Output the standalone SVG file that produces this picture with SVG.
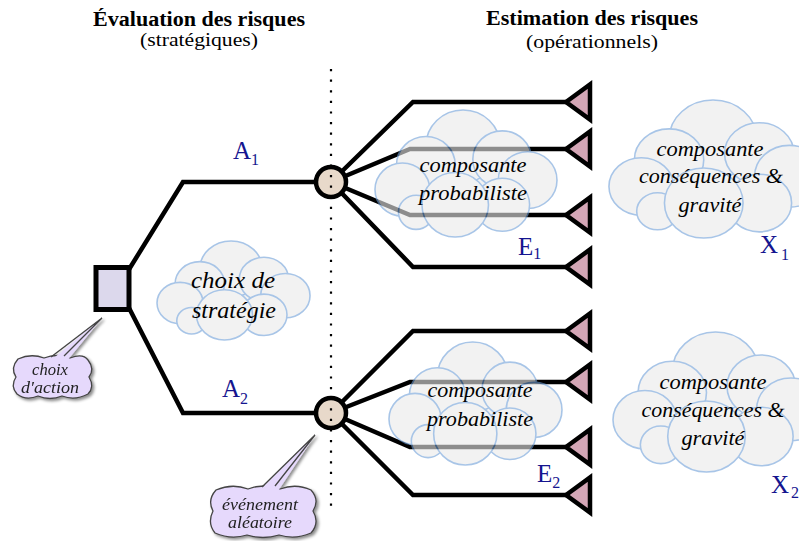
<svg xmlns="http://www.w3.org/2000/svg" xmlns:xlink="http://www.w3.org/1999/xlink" width="799" height="541" viewBox="0 0 799 541">
<style>
.ln{fill:none;stroke:#000;stroke-width:4.5;stroke-linejoin:miter}
.tri{fill:#d4a6b6;stroke:#000;stroke-width:4.5;stroke-linejoin:miter}
.chance{fill:#e8d9ca;stroke:#000;stroke-width:4.5}
.dec{fill:#dcd8ec;stroke:#000;stroke-width:5}
.cloud circle,.cloud ellipse{fill:#ebebeb;stroke:#6f9fd8;stroke-width:1.6;vector-effect:non-scaling-stroke}
.cloud ellipse{stroke:none}
.cl{opacity:0.6}
.t{font-family:"Liberation Serif",serif;text-anchor:middle;fill:#000}
.h{font-weight:bold;font-size:20px}
.s{font-size:18px}
.c{font-style:italic;font-size:22px}
.cb{font-style:italic;font-size:24px}
.co{font-style:italic;font-size:17px;fill:#222}
.lb{font-family:"Liberation Serif",serif;font-size:25px;fill:#15158f}
.sub{font-size:16px}
.callout{fill:#e6d9fc;stroke:#444;stroke-width:1.3}
.ptr{fill:#e6d9fc;stroke:none}
.ptrl{fill:none;stroke:#444;stroke-width:1.3}
</style>
<defs>
<g id="cloud" class="cloud">
<ellipse cx="105" cy="82" rx="50" ry="35"/>
<circle cx="100" cy="42" r="38"/>
<circle cx="62" cy="62" r="30"/>
<circle cx="140" cy="56" r="30"/>
<circle cx="38" cy="88" r="28"/>
<circle cx="166" cy="78" r="30"/>
<circle cx="52" cy="112" r="18"/>
<circle cx="140" cy="104" r="28"/>
<circle cx="92" cy="104" r="34"/>
</g>
<filter id="sh" x="-20%" y="-20%" width="140%" height="140%">
<feDropShadow dx="2" dy="2" stdDeviation="1.5" flood-color="#000" flood-opacity="0.45"/>
</filter>
</defs>

<g id="headings">
<text class="t h" x="199" y="26" textLength="212" lengthAdjust="spacingAndGlyphs">Évaluation des risques</text>
<text class="t s" x="199" y="46" textLength="118" lengthAdjust="spacingAndGlyphs">(stratégiques)</text>
<text class="t h" x="592" y="25" textLength="212" lengthAdjust="spacingAndGlyphs">Estimation des risques</text>
<text class="t s" x="592" y="48" textLength="132" lengthAdjust="spacingAndGlyphs">(opérationnels)</text>
</g>

<g id="connectors">
<path class="ln" d="M128,271 L183,182 L331,182"/>
<path class="ln" d="M128,306 L183,413 L331,413"/>
<path class="ln" d="M331,182 L413,102 L566,102"/>
<path class="ln" d="M331,182 L410,149 L566,149"/>
<path class="ln" d="M331,182 L410,215 L566,215"/>
<path class="ln" d="M331,182 L413,267 L566,267"/>
<path class="ln" d="M331,413 L413,331 L566,331"/>
<path class="ln" d="M331,413 L410,382 L566,382"/>
<path class="ln" d="M331,413 L410,447 L566,447"/>
<path class="ln" d="M331,413 L413,495 L566,495"/>
</g>

<g id="cloud-strategie">
<use xlink:href="#cloud" href="#cloud" class="cl" transform="translate(148.8,238) scale(0.8226,0.7388)"/>
<text class="t cb" x="233" y="288" textLength="84" lengthAdjust="spacingAndGlyphs">choix de</text>
<text class="t cb" x="234" y="318" textLength="84" lengthAdjust="spacingAndGlyphs">stratégie</text>
</g>

<g id="cloud-proba-1">
<use xlink:href="#cloud" href="#cloud" class="cl" transform="translate(365.2,106.2) scale(0.9785,0.9478)"/>
<text class="t c" x="473" y="172" textLength="107" lengthAdjust="spacingAndGlyphs">composante</text>
<text class="t c" x="473" y="200" textLength="108" lengthAdjust="spacingAndGlyphs">probabiliste</text>
</g>

<g id="cloud-proba-2">
<use xlink:href="#cloud" href="#cloud" class="cl" transform="translate(379.7,338.3) scale(0.930,0.918)"/>
<text class="t c" x="480" y="397" textLength="105" lengthAdjust="spacingAndGlyphs">composante</text>
<text class="t c" x="480" y="426" textLength="106" lengthAdjust="spacingAndGlyphs">probabiliste</text>
</g>

<g id="cloud-gravite-1">
<use xlink:href="#cloud" href="#cloud" class="cl" transform="translate(597.4,95.9) scale(1.156,1.030)"/>
<text class="t c" x="710" y="156" textLength="107" lengthAdjust="spacingAndGlyphs">composante</text>
<text class="t c" x="711" y="183" textLength="144" lengthAdjust="spacingAndGlyphs">conséquences &amp;</text>
<text class="t c" x="710" y="212" textLength="63" lengthAdjust="spacingAndGlyphs">gravité</text>
</g>

<g id="cloud-gravite-2">
<use xlink:href="#cloud" href="#cloud" class="cl" transform="translate(601.6,327.8) scale(1.140,1.045)"/>
<text class="t c" x="713" y="389" textLength="107" lengthAdjust="spacingAndGlyphs">composante</text>
<text class="t c" x="713" y="417" textLength="143" lengthAdjust="spacingAndGlyphs">conséquences &amp;</text>
<text class="t c" x="713" y="445" textLength="63" lengthAdjust="spacingAndGlyphs">gravité</text>
</g>

<g id="decision">
<rect class="dec" x="96" y="267.5" width="33" height="42"/>
</g>

<g id="chance-1"><circle class="chance" cx="331" cy="182" r="15"/></g>
<g id="chance-2"><circle class="chance" cx="331" cy="413" r="15"/></g>

<g id="outcomes">
<polygon class="tri" points="566,102 590,84.5 590,119.5"/>
<polygon class="tri" points="566,149 590,131.5 590,166.5"/>
<polygon class="tri" points="566,215 590,197.5 590,232.5"/>
<polygon class="tri" points="566,267 590,249.5 590,284.5"/>
<polygon class="tri" points="566,331 590,313.5 590,348.5"/>
<polygon class="tri" points="566,382 590,364.5 590,399.5"/>
<polygon class="tri" points="566,447 590,429.5 590,464.5"/>
<polygon class="tri" points="566,495 590,477.5 590,512.5"/>
</g>

<g id="separator">
<line x1="331" y1="69" x2="331" y2="514" stroke="#000" stroke-width="2.2" stroke-dasharray="2.2 8.4"/>
</g>

<g id="labels">
<text class="lb" x="233" y="159">A<tspan class="sub" dy="6">1</tspan></text>
<text class="lb" x="222" y="397">A<tspan class="sub" dy="7">2</tspan></text>
<text class="lb" x="518" y="255">E<tspan class="sub" dy="4">1</tspan></text>
<text class="lb" x="537" y="482">E<tspan class="sub" dy="6">2</tspan></text>
<text class="lb" x="760" y="253">X<tspan class="sub" dx="3" dy="7">1</tspan></text>
<text class="lb" x="771" y="493">X<tspan class="sub" dx="2" dy="5">2</tspan></text>
</g>

<g id="callout-action" filter="url(#sh)">
<path class="callout" d="M18,359 Q31,353 44,358 Q57,353 70,358 Q83,353 88,360 Q95,369 89,377 Q95,387 88,394 Q75,401 62,396 Q50,401 38,396 Q26,401 17,394 Q10,386 16,377 Q10,368 18,359 Z"/>
<polygon class="ptr" points="102,318 49,362 66,362"/>
<path class="ptrl" d="M51,357 L102,318 L64,356"/>
<text class="t co" x="50" y="375" textLength="36" lengthAdjust="spacingAndGlyphs">choix</text>
<text class="t co" x="50" y="393" textLength="58" lengthAdjust="spacingAndGlyphs">d'action</text>
</g>

<g id="callout-evenement" filter="url(#sh)">
<path class="callout" d="M216,490 Q232,483 248,489 Q264,483 280,489 Q296,483 311,490 Q320,500 313,511 Q320,523 311,533 Q295,540 279,535 Q263,540 247,535 Q231,540 215,533 Q207,523 213,511 Q207,500 216,490 Z"/>
<polygon class="ptr" points="315,435 259,491 278,491"/>
<path class="ptrl" d="M262,487 L315,435 L275,486"/>
<text class="t co" x="260" y="510" textLength="76" lengthAdjust="spacingAndGlyphs">événement</text>
<text class="t co" x="260" y="528" textLength="64" lengthAdjust="spacingAndGlyphs">aléatoire</text>
</g>
</svg>
